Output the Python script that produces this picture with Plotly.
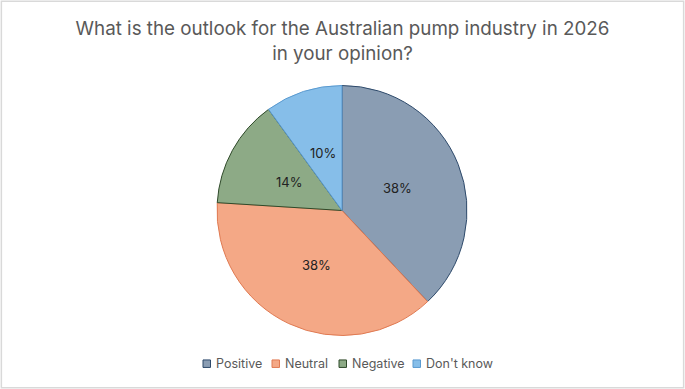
import numpy as np
import plotly.graph_objects as go

labels = ["Positive", "Neutral", "Negative", "Don't know"]
values = [38, 38, 14, 10]
colors = ["#8A9DB3", "#F4A886", "#8DAA86", "#86BEE9"]
edges = ["#2E4A6B", "#E07A52", "#2F4A2A", "#5A9AD0"]

W, H = 685, 389
# pie placement (pixels)
cx, cy, R = 342, 210.5, 125
dom_x = [(cx - R) / W, (cx + R) / W]
dom_y = [(H - cy - R) / H, (H - cy + R) / H]

fig = go.Figure(go.Pie(
    labels=labels, values=values, sort=False, direction="clockwise", rotation=0,
    marker=dict(colors=colors, line=dict(color=edges, width=1)),
    textinfo="none", showlegend=False,
    domain=dict(x=dom_x, y=dom_y),
    hoverinfo="label+percent",
))

# data labels at mid-angle, ~0.48 R (Excel style)
vals = np.array(values, dtype=float)
fr = vals / vals.sum()
mids = (np.cumsum(fr) - fr / 2) * 2 * np.pi
annotations = []
for f, a in zip(fr, mids):
    px = cx + 0.48 * R * np.sin(a)
    py = cy - 0.48 * R * np.cos(a)
    annotations.append(dict(x=px / W, y=(H - py) / H, xref="paper", yref="paper",
                            xanchor="center", yanchor="middle",
                            text=f"{f*100:.0f}%", showarrow=False,
                            font=dict(family="Inter", size=13, color="#222222")))

# custom compact legend
leg_x = [203, 272, 339, 413]
leg_y = 363.7
sq = 7.5
shapes = [dict(type="rect", xref="paper", yref="paper", x0=0.002, y0=0.003, x1=0.998, y1=0.997,
               line=dict(color="#D9D9D9", width=1.5))]
for lab, c, e, lx in zip(labels, colors, edges, leg_x):
    shapes.append(dict(type="rect", xref="paper", yref="paper",
                       x0=lx / W, x1=(lx + sq) / W,
                       y0=(H - leg_y - sq / 2) / H, y1=(H - leg_y + sq / 2) / H,
                       fillcolor=c, line=dict(color=e, width=1)))
    annotations.append(dict(x=(lx + sq + 3) / W, y=(H - leg_y) / H, xref="paper", yref="paper",
                            xanchor="left", yanchor="middle", text=lab, showarrow=False,
                            font=dict(family="Inter", size=12.5, color="#595959")))

fig.update_layout(
    width=W, height=H,
    margin=dict(l=0, r=0, t=0, b=0),
    paper_bgcolor="white",
    title=dict(text="What is the outlook for the Australian pump industry in 2026<br>in your opinion?",
               x=0.5, xanchor="center", y=0.909, yanchor="middle",
               font=dict(family="Inter", size=18.8, color="#595959")),
    shapes=shapes,
    annotations=annotations,
)

fig.write_html("out.html", config={"displayModeBar": False})
with open("out.html", encoding="utf-8") as f:
    html = f.read()
html = html.replace("<body>", '<body style="margin:0;overflow:hidden">', 1)
with open("out.html", "w", encoding="utf-8") as f:
    f.write(html)
